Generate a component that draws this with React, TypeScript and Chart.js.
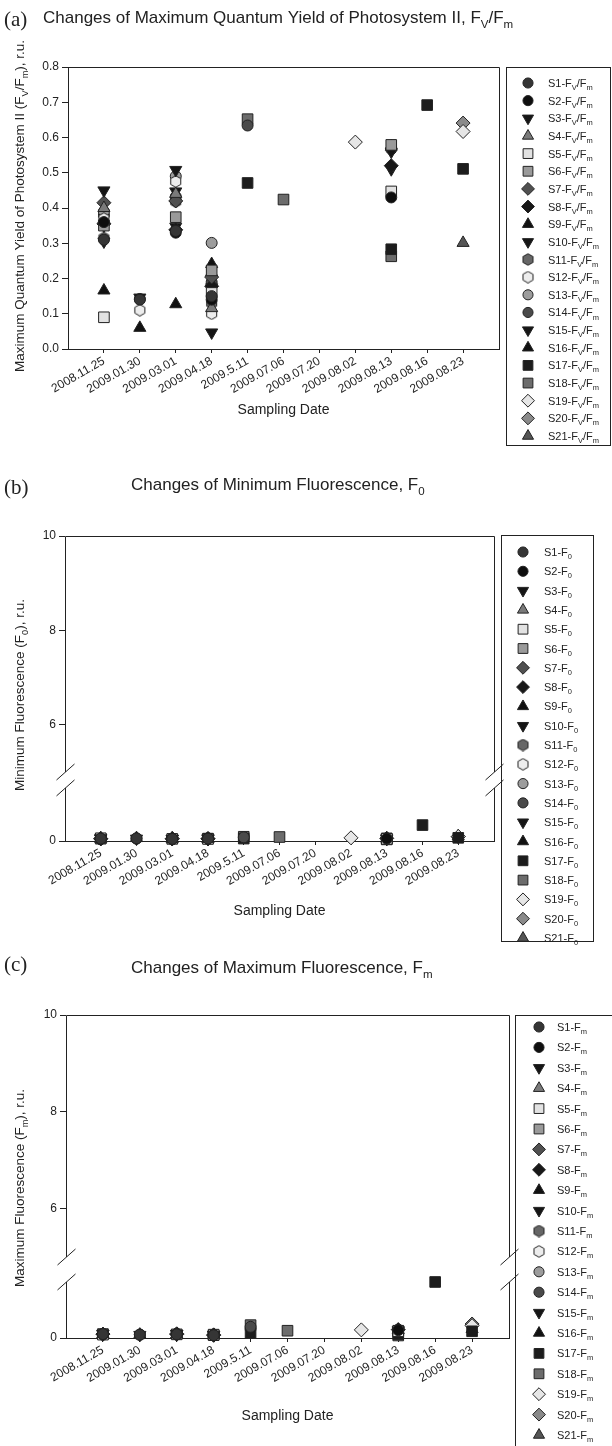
import React, { useEffect, useRef } from 'react';
import { Chart, registerables } from 'chart.js';
import { drawPoint } from 'chart.js/helpers';

Chart.register(...registerables);

// ---------------- DATA ----------------
const dates = ['2008.11.25', '2009.01.30', '2009.03.01', '2009.04.18', '2009.5.11', '2009.07.06', '2009.07.20', '2009.08.02', '2009.08.13', '2009.08.16', '2009.08.23'];
const sampleIds = ['S1', 'S2', 'S3', 'S4', 'S5', 'S6', 'S7', 'S8', 'S9', 'S10', 'S11', 'S12', 'S13', 'S14', 'S15', 'S16', 'S17', 'S18', 'S19', 'S20', 'S21'];
const fvfmTicks = [0, 0.1, 0.2, 0.3, 0.4, 0.5, 0.6, 0.7, 0.8];
const upperTicks = [6, 8, 10];
const lowerTicks = [0];

const N = null;
// Fv/Fm, one row per sample (S1..S21), one column per sampling date
const fvfmValues: (number | null)[][] = [
  [0.31, 0.14, 0.335, 0.15, N, N, N, N, N, N, N],
  [0.36, N, 0.33, 0.14, N, N, N, N, 0.43, N, N],
  [0.45, 0.146, 0.508, 0.047, N, N, N, N, N, N, N],
  [0.40, N, 0.44, 0.116, N, N, N, N, N, N, N],
  [0.09, N, N, 0.159, N, N, N, N, 0.447, N, N],
  [0.35, N, 0.374, 0.223, N, N, N, N, 0.579, N, N],
  [0.415, N, 0.42, 0.204, N, N, N, N, N, N, N],
  [0.355, N, 0.338, 0.178, N, N, N, N, 0.52, N, N],
  [0.166, 0.06, 0.127, 0.241, N, N, N, N, N, N, N],
  [0.35, N, 0.447, 0.20, N, N, N, N, 0.56, N, N],
  [0.315, N, 0.418, 0.13, N, N, N, N, N, N, N],
  [0.37, 0.11, 0.475, 0.10, N, N, N, N, N, N, N],
  [0.39, N, 0.49, 0.301, N, N, N, N, N, N, N],
  [0.38, 0.142, 0.432, 0.19, 0.634, N, N, N, 0.567, N, N],
  [0.305, N, 0.347, 0.175, N, N, N, N, 0.51, N, N],
  [N, N, N, N, N, N, N, N, 0.574, N, N],
  [N, N, N, N, 0.471, N, N, N, 0.283, 0.692, 0.511],
  [N, N, N, N, 0.652, 0.424, N, N, 0.263, N, N],
  [N, N, N, N, N, N, N, 0.587, N, N, 0.617],
  [N, N, N, N, N, N, N, N, N, N, 0.641],
  [N, N, N, N, N, N, N, N, N, N, 0.301],
];
// F0 (r.u.)
const f0Values: (number | null)[][] = [
  [0.045, 0.05, 0.04, 0.045, N, N, N, N, N, N, N],
  [0.04, N, 0.045, 0.05, N, N, N, N, 0.045, N, N],
  [0.05, 0.045, 0.04, 0.05, N, N, N, N, N, N, N],
  [0.04, N, 0.035, 0.04, N, N, N, N, N, N, N],
  [0.05, N, N, 0.04, N, N, N, N, 0.04, N, N],
  [0.045, N, 0.04, 0.045, N, N, N, N, 0.035, N, N],
  [0.04, N, 0.045, 0.04, N, N, N, N, N, N, N],
  [0.045, N, 0.04, 0.045, N, N, N, N, 0.05, N, N],
  [0.05, 0.055, 0.05, 0.04, N, N, N, N, N, N, N],
  [0.045, N, 0.04, 0.045, N, N, N, N, 0.04, N, N],
  [0.04, N, 0.045, 0.05, N, N, N, N, N, N, N],
  [0.045, 0.05, 0.04, 0.045, N, N, N, N, N, N, N],
  [0.04, N, 0.035, 0.04, N, N, N, N, N, N, N],
  [0.045, 0.045, 0.04, 0.045, 0.07, N, N, N, 0.05, N, N],
  [0.05, N, 0.045, 0.05, N, N, N, N, 0.05, N, N],
  [N, N, N, N, N, N, N, N, 0.045, N, N],
  [N, N, N, N, 0.045, N, N, N, 0.05, 0.30, 0.06],
  [N, N, N, N, 0.08, 0.075, N, N, 0.03, N, N],
  [N, N, N, N, N, N, N, 0.06, N, N, 0.085],
  [N, N, N, N, N, N, N, N, N, N, 0.08],
  [N, N, N, N, N, N, N, N, N, N, 0.09],
];
// Fm (r.u.)
const fmValues: (number | null)[][] = [
  [0.07, 0.06, 0.065, 0.05, N, N, N, N, N, N, N],
  [0.065, N, 0.07, 0.055, N, N, N, N, 0.14, N, N],
  [0.08, 0.055, 0.075, 0.05, N, N, N, N, N, N, N],
  [0.07, N, 0.065, 0.045, N, N, N, N, N, N, N],
  [0.06, N, N, 0.05, N, N, N, N, 0.12, N, N],
  [0.07, N, 0.065, 0.06, N, N, N, N, 0.13, N, N],
  [0.07, N, 0.075, 0.05, N, N, N, N, N, N, N],
  [0.07, N, 0.065, 0.055, N, N, N, N, 0.15, N, N],
  [0.06, 0.06, 0.06, 0.055, N, N, N, N, N, N, N],
  [0.07, N, 0.07, 0.055, N, N, N, N, 0.14, N, N],
  [0.06, N, 0.075, 0.06, N, N, N, N, N, N, N],
  [0.07, 0.055, 0.08, 0.05, N, N, N, N, N, N, N],
  [0.065, N, 0.07, 0.06, N, N, N, N, N, N, N],
  [0.075, 0.06, 0.07, 0.055, 0.20, N, N, N, 0.15, N, N],
  [0.07, N, 0.07, 0.06, N, N, N, N, 0.13, N, N],
  [N, N, N, N, N, N, N, N, 0.14, N, N],
  [N, N, N, N, 0.09, N, N, N, 0.07, 1.0, 0.12],
  [N, N, N, N, 0.23, 0.13, N, N, 0.045, N, N],
  [N, N, N, N, N, N, N, 0.145, N, N, 0.22],
  [N, N, N, N, N, N, N, N, N, N, 0.25],
  [N, N, N, N, N, N, N, N, N, N, 0.16],
];

// ---------------- STYLE ----------------
const FONT = "Arial, 'Liberation Sans', Helvetica, sans-serif";
const SERIF = "'Times New Roman', 'Liberation Serif', 'DejaVu Serif', serif";
const INK = '#222222';

type Shape = 'circle' | 'rect' | 'diamond' | 'up' | 'down' | 'hex';
const markerShapes: Shape[] = ['circle', 'circle', 'down', 'up', 'rect', 'rect', 'diamond', 'diamond', 'up', 'down', 'hex', 'hex', 'circle', 'circle', 'down', 'up', 'rect', 'rect', 'diamond', 'diamond', 'up'];
const markerFills = ['#353535', '#0e0e0e', '#151515', '#7a7a7a', '#e2e2e2', '#9a9a9a', '#505050', '#181818', '#111111', '#151515', '#666666', '#ededed', '#9c9c9c', '#4a4a4a', '#151515', '#111111', '#1c1c1c', '#6c6c6c', '#e6e6e6', '#8a8a8a', '#555555'];

const hexCache: Record<string, HTMLCanvasElement> = {};
function hexImage(fill: string): HTMLCanvasElement {
  if (hexCache[fill]) return hexCache[fill];
  const c = document.createElement('canvas');
  c.width = 13;
  c.height = 13;
  const g = c.getContext('2d')!;
  g.beginPath();
  for (let k = 0; k < 6; k++) {
    const a = Math.PI / 2 + (k * Math.PI) / 3;
    const px = 6.5 + 5.8 * Math.cos(a);
    const py = 6.5 - 5.8 * Math.sin(a);
    if (k) g.lineTo(px, py);
    else g.moveTo(px, py);
  }
  g.closePath();
  g.fillStyle = fill;
  g.fill();
  g.strokeStyle = INK;
  g.lineWidth = 1;
  g.stroke();
  hexCache[fill] = c;
  return c;
}

function markerStyle(i: number): { pointStyle: any; radius: number; rotation: number } {
  const fill = markerFills[i];
  switch (markerShapes[i]) {
    case 'circle': return { pointStyle: 'circle', radius: 5.5, rotation: 0 };
    case 'rect': return { pointStyle: 'rect', radius: 7.5, rotation: 0 };
    case 'diamond': return { pointStyle: 'rectRot', radius: 7, rotation: 0 };
    case 'up': return { pointStyle: 'triangle', radius: 7, rotation: 0 };
    case 'down': return { pointStyle: 'triangle', radius: 7, rotation: 180 };
    default: return { pointStyle: hexImage(fill), radius: 6, rotation: 0 };
  }
}

function buildDatasets(values: (number | null)[][], axisId: string) {
  return values.map((row, i) => {
    const m = markerStyle(i);
    return {
      label: sampleIds[i],
      data: row.map((v, k) => (v == null ? null : { x: k, y: v })).filter((p) => p !== null),
      yAxisID: axisId,
      xAxisID: 'x',
      showLine: false,
      clip: false,
      pointStyle: m.pointStyle,
      pointRadius: m.radius,
      pointHoverRadius: m.radius,
      pointRotation: m.rotation,
      pointBackgroundColor: markerFills[i],
      pointBorderColor: INK,
      pointBorderWidth: 1,
    };
  });
}

// ---------------- RICH TEXT ----------------
type Part = [string, boolean];
function richWidth(ctx: CanvasRenderingContext2D, parts: Part[], size: number) {
  let w = 0;
  for (const [t, sub] of parts) {
    ctx.font = `${sub ? size * 0.68 : size}px ${FONT}`;
    w += ctx.measureText(t).width;
  }
  return w;
}
function drawRich(ctx: CanvasRenderingContext2D, parts: Part[], x: number, y: number, size: number, align: 'left' | 'center') {
  let cx = align === 'center' ? x - richWidth(ctx, parts, size) / 2 : x;
  ctx.textAlign = 'left';
  ctx.textBaseline = 'alphabetic';
  for (const [t, sub] of parts) {
    const s = sub ? size * 0.68 : size;
    ctx.font = `${s}px ${FONT}`;
    ctx.fillText(t, cx, sub ? y + size * 0.28 : y);
    cx += ctx.measureText(t).width;
  }
}

const al = (p: number) => Math.round(p - 0.5) + 0.5;

interface Decor {
  tag: string; tagX: number; tagY: number;
  title: Part[]; titleX: number; titleY: number;
  yTitle: Part[]; yTitleX: number; yTitleY: number;
  legend: { x0: number; y0: number; x1: number; y1: number; firstY: number; step: number; markerX: number; textX: number; sub: Part[] };
  broken: boolean;
}

function decorPlugin(d: Decor) {
  return {
    id: 'decor',
    afterDraw(chart: any) {
      const ctx: CanvasRenderingContext2D = chart.ctx;
      const { left, right, top, bottom } = chart.chartArea;
      ctx.save();
      ctx.fillStyle = INK;
      ctx.font = `21px ${SERIF}`;
      ctx.textAlign = 'left';
      ctx.textBaseline = 'alphabetic';
      ctx.fillText(d.tag, d.tagX, d.tagY);
      drawRich(ctx, d.title, d.titleX, d.titleY, 17, 'left');
      ctx.save();
      ctx.translate(d.yTitleX, d.yTitleY);
      ctx.rotate(-Math.PI / 2);
      drawRich(ctx, d.yTitle, 0, 5, 13.5, 'center');
      ctx.restore();

      // frame
      ctx.strokeStyle = INK;
      ctx.lineWidth = 1;
      const L = al(left), R = al(right), T = al(top), B = al(bottom);
      ctx.beginPath();
      ctx.moveTo(L, T);
      ctx.lineTo(R, T);
      if (!d.broken) {
        ctx.lineTo(R, B);
      } else {
        const gTop = chart.scales.yHigh.bottom;
        const gBot = chart.scales.yLow.getPixelForValue(1);
        for (const X of [L, R]) {
          ctx.moveTo(X, T);
          ctx.lineTo(X, gTop);
          ctx.moveTo(X, gBot);
          ctx.lineTo(X, B);
          for (const g of [gTop, gBot]) {
            ctx.moveTo(X - 9, g + 8);
            ctx.lineTo(X + 9, g - 8);
          }
        }
      }
      ctx.stroke();

      // legend
      const lg = d.legend;
      ctx.strokeRect(al(lg.x0), al(lg.y0), Math.round(lg.x1 - lg.x0), Math.round(lg.y1 - lg.y0));
      for (let i = 0; i < sampleIds.length; i++) {
        const y = lg.firstY + i * lg.step;
        const m = markerStyle(i);
        ctx.fillStyle = markerFills[i];
        ctx.strokeStyle = INK;
        ctx.lineWidth = 1;
        drawPoint(ctx, { pointStyle: m.pointStyle, rotation: m.rotation, radius: m.radius * 0.92, borderWidth: 1 } as any, lg.markerX, y);
        ctx.fillStyle = INK;
        drawRich(ctx, [[`${sampleIds[i]}-F`, false], ...lg.sub], lg.textX, y + 4, 11, 'left');
      }
      ctx.restore();
    },
  };
}

function xScale(height: number) {
  return {
    type: 'linear',
    position: 'bottom',
    min: -1,
    max: 11,
    afterBuildTicks: (s: any) => { s.ticks = dates.map((_, i) => ({ value: i })); },
    afterFit: (s: any) => { s.height = height; },
    ticks: {
      autoSkip: false, minRotation: 30, maxRotation: 30, padding: 1, color: INK,
      font: { family: FONT, size: 12 },
      callback: (v: any) => dates[Number(v)] ?? '',
    },
    grid: { drawOnChartArea: false, drawTicks: true, tickLength: 4, color: INK, lineWidth: 1 },
    border: { display: true, color: INK, width: 1 },
    title: { display: true, text: 'Sampling Date', color: INK, font: { family: FONT, size: 14 }, padding: { top: 0, bottom: 0 } },
  };
}

function yCommon(width: number, ticks: number[], fmt: (v: number) => string) {
  return {
    type: 'linear',
    position: 'left',
    afterBuildTicks: (s: any) => { s.ticks = ticks.map((v) => ({ value: v })); },
    afterFit: (s: any) => { s.width = width; },
    ticks: { color: INK, font: { family: FONT, size: 12 }, padding: 3, callback: (v: any) => fmt(Number(v)) },
    grid: { drawOnChartArea: false, drawTicks: true, tickLength: 6, color: INK, lineWidth: 1 },
  };
}

const baseOptions = (padding: any) => ({
  animation: false,
  responsive: false,
  maintainAspectRatio: false,
  devicePixelRatio: 1,
  events: [],
  layout: { padding },
  plugins: { legend: { display: false }, tooltip: { enabled: false }, title: { display: false } },
});

function makeA() {
  return {
    type: 'scatter',
    data: { datasets: buildDatasets(fvfmValues, 'y') },
    options: {
      ...baseOptions({ left: 0, top: 67, right: 113, bottom: 41 }),
      scales: {
        x: xScale(70),
        y: { ...yCommon(68, fvfmTicks, (v) => v.toFixed(1)), min: 0, max: 0.8, border: { display: true, color: INK, width: 1 } },
      },
    },
    plugins: [decorPlugin({
      tag: '(a)', tagX: 4, tagY: 26,
      title: [['Changes of Maximum Quantum Yield of Photosystem II, F', false], ['V', true], ['/F', false], ['m', true]],
      titleX: 43, titleY: 23,
      yTitle: [['Maximum Quantum Yield of Photosystem II (F', false], ['V', true], ['/F', false], ['m', true], ['), r.u.', false]],
      yTitleX: 19, yTitleY: 206,
      legend: { x0: 506, y0: 67, x1: 610, y1: 445, firstY: 83, step: 17.65, markerX: 528, textX: 548, sub: [['V', true], ['/F', false], ['m', true]] },
      broken: false,
    })],
  };
}

// lower segment is declared first: Chart.js places the stacked left axes bottom-up in this order
function brokenScales(width: number, upperW: number, lowerW: number, lowerMax: number) {
  return {
    yLow: { ...yCommon(width, lowerTicks, (v) => String(v)), axis: 'y', min: 0, max: lowerMax, stack: 'ys', stackWeight: lowerW, border: { display: false } },
    yHigh: { ...yCommon(width, upperTicks, (v) => String(v)), axis: 'y', min: 5, max: 10, stack: 'ys', stackWeight: upperW, border: { display: false } },
  };
}

function makeB() {
  return {
    type: 'scatter',
    data: { datasets: buildDatasets(f0Values, 'yLow') },
    options: {
      ...baseOptions({ left: 0, top: 76, right: 118, bottom: 30 }),
      scales: { x: xScale(79), ...brokenScales(65, 236, 69, 1.3) },
    },
    plugins: [decorPlugin({
      tag: '(b)', tagX: 4, tagY: 34,
      title: [['Changes of Minimum Fluorescence, F', false], ['0', true]],
      titleX: 131, titleY: 30,
      yTitle: [['Minimum Fluorescence (F', false], ['0', true], ['), r.u.', false]],
      yTitleX: 19, yTitleY: 235,
      legend: { x0: 501, y0: 75, x1: 593, y1: 481, firstY: 92, step: 19.3, markerX: 523, textX: 544, sub: [['0', true]] },
      broken: true,
    })],
  };
}

function makeC() {
  return {
    type: 'scatter',
    data: { datasets: buildDatasets(fmValues, 'yLow') },
    options: {
      ...baseOptions({ left: 0, top: 65, right: 103, bottom: 21 }),
      scales: { x: xScale(87), ...brokenScales(66, 242, 81, 1.446) },
    },
    plugins: [decorPlugin({
      tag: '(c)', tagX: 4, tagY: 21,
      title: [['Changes of Maximum Fluorescence, F', false], ['m', true]],
      titleX: 131, titleY: 23,
      yTitle: [['Maximum Fluorescence (F', false], ['m', true], ['), r.u.', false]],
      yTitleX: 19, yTitleY: 238,
      legend: { x0: 515, y0: 65, x1: 640, y1: 530, firstY: 77, step: 20.4, markerX: 539, textX: 557, sub: [['m', true]] },
      broken: true,
    })],
  };
}

function Panel({ top, height, make }: { top: number; height: number; make: () => any }) {
  const ref = useRef<HTMLCanvasElement>(null);
  useEffect(() => {
    const chart = new Chart(ref.current as HTMLCanvasElement, make());
    return () => chart.destroy();
  }, [make]);
  return (
    <canvas
      ref={ref}
      width={612}
      height={height}
      style={{ position: 'absolute', left: 0, top, width: 612, height, display: 'block' }}
    />
  );
}

export default function App() {
  return (
    <div style={{ position: 'absolute', left: 0, top: 0, width: 612, height: 1446, background: '#ffffff', overflow: 'hidden' }}>
      <Panel top={0} height={460} make={makeA} />
      <Panel top={460} height={490} make={makeB} />
      <Panel top={950} height={496} make={makeC} />
    </div>
  );
}
